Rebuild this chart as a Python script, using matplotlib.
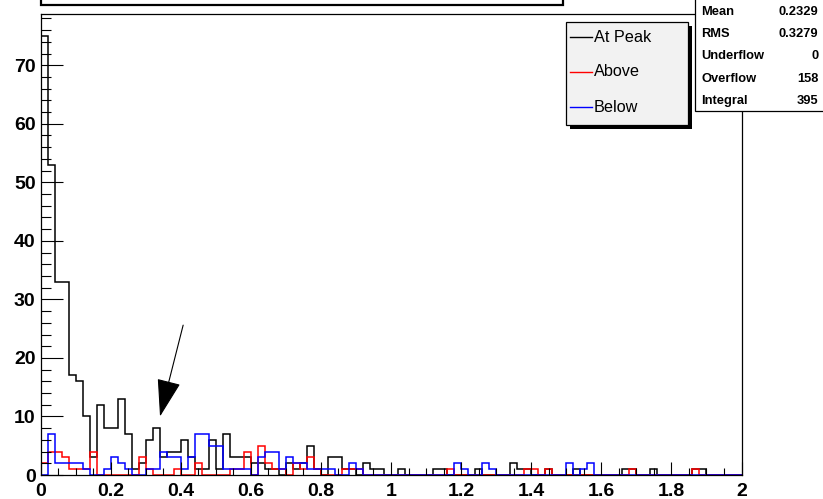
import numpy as np
import matplotlib.pyplot as plt
from matplotlib.patches import Rectangle
from matplotlib.lines import Line2D
from matplotlib.ticker import MultipleLocator

plt.rcParams['font.family'] = ['Liberation Sans', 'DejaVu Sans']

W, H = 823, 499

# 100 bins of width 0.02 between 0 and 2
edges = np.linspace(0, 2, 101)

at_peak = [75, 53, 33, 33, 17, 16, 10, 3, 12, 8,
           8, 13, 7, 1, 2, 6, 8, 3, 4, 4,
           6, 3, 1, 1, 6, 1, 7, 3, 3, 3,
           2, 2, 1, 1, 0, 2, 1, 2, 5, 1,
           0, 3, 3, 1, 1, 0, 2, 1, 1, 0,
           0, 1, 0, 0, 0, 0, 1, 1, 0, 0,
           0, 0, 1, 0, 0, 0, 0, 2, 1, 1,
           0, 0, 1, 0, 0, 0, 1, 0, 0, 0,
           0, 0, 0, 1, 1, 0, 0, 1, 0, 0,
           0, 0, 0, 1, 1, 0, 0, 0, 0, 0]

above = [2, 4, 4, 3, 1, 1, 1, 4, 0, 0,
         0, 0, 0, 0, 3, 1, 0, 0, 0, 1,
         0, 0, 2, 0, 0, 0, 0, 1, 1, 4,
         0, 5, 2, 1, 1, 0, 2, 1, 3, 1,
         0, 0, 0, 1, 1, 1, 0, 0, 0, 0,
         0, 0, 0, 0, 0, 0, 0, 0, 1, 0,
         0, 0, 0, 0, 0, 0, 0, 0, 0, 1,
         1, 0, 1, 0, 0, 0, 0, 0, 0, 0,
         0, 0, 0, 0, 1, 0, 0, 0, 0, 0,
         0, 0, 0, 1, 0, 0, 0, 0, 0, 0]

below = [0, 7, 2, 2, 2, 2, 1, 0, 0, 1,
         3, 2, 1, 0, 0, 1, 1, 4, 3, 3,
         1, 3, 7, 7, 5, 5, 1, 1, 1, 1,
         0, 3, 4, 4, 1, 3, 2, 2, 1, 1,
         1, 1, 0, 0, 2, 1, 0, 0, 0, 0,
         0, 0, 0, 0, 0, 0, 0, 0, 0, 2,
         1, 0, 0, 2, 1, 0, 0, 0, 0, 0,
         0, 0, 0, 0, 0, 2, 0, 1, 2, 0,
         0, 0, 0, 0, 0, 0, 0, 0, 0, 0,
         0, 0, 0, 0, 0, 0, 0, 0, 0, 0]

legend_labels = ['At Peak', 'Above', 'Below']
legend_colors = ['black', 'red', 'blue']

stat_names = ['Mean', 'RMS', 'Underflow', 'Overflow', 'Integral']
stat_values = ['0.2329', '0.3279', '0', '158', '395']

x_ticks = [0, 0.2, 0.4, 0.6, 0.8, 1.0, 1.2, 1.4, 1.6, 1.8, 2.0]
x_tick_labels = ['0', '0.2', '0.4', '0.6', '0.8', '1', '1.2', '1.4', '1.6', '1.8', '2']
y_ticks = [0, 10, 20, 30, 40, 50, 60, 70]


def fx(x):
    return x / W


def fy(y):
    # pixel rows are counted from the top
    return 1 - y / H


fig = plt.figure(figsize=(W / 100, H / 100), dpi=100)
ax = fig.add_axes([fx(40.5), fy(475), 701 / W, 461 / H])

for vals, col in zip([at_peak, above, below], legend_colors):
    ax.stairs(vals, edges, color=col, lw=1.1)

ax.set_xlim(0, 2)
ax.set_ylim(0, 1.05 * max(at_peak))

ax.set_xticks(x_ticks)
ax.set_xticklabels(x_tick_labels)
ax.set_yticks(y_ticks)
ax.set_yticklabels([str(v) for v in y_ticks])
ax.xaxis.set_minor_locator(MultipleLocator(0.05))
ax.yaxis.set_minor_locator(MultipleLocator(2))

ax.tick_params(axis='both', which='both', direction='in', width=0.8,
               labelsize=14, top=False, right=False)
ax.tick_params(axis='x', which='major', length=9.5, pad=5.5)
ax.tick_params(axis='x', which='minor', length=4.7)
ax.tick_params(axis='y', which='major', length=15.5, pad=3.5)
ax.tick_params(axis='y', which='minor', length=7.2)
for lab in ax.get_xticklabels() + ax.get_yticklabels():
    lab.set_fontweight('bold')
for sp in ax.spines.values():
    sp.set_linewidth(0.9)

# arrow pointing at the bump near 0.34
ax.annotate('', xy=(0.341, 10.0), xytext=(0.407, 25.6),
            arrowprops=dict(arrowstyle='-|>,head_length=2.4,head_width=0.76',
                            mutation_scale=10, color='black', lw=0.8,
                            shrinkA=0, shrinkB=0))

# title pave (only its lower edge is inside the canvas)
fig.patches.append(Rectangle((fx(40.5), fy(5)), fx(562.7) - fx(40.5), fy(-20) - fy(5),
                             transform=fig.transFigure, facecolor='white',
                             edgecolor='black', lw=1.6, zorder=2))

# legend with drop shadow
lx0, ly0, lx1, ly1 = 566, 22, 688, 125
fig.patches.append(Rectangle((fx(lx0 + 4), fy(ly1 + 4)), fx(lx1) - fx(lx0), fy(ly0) - fy(ly1),
                             transform=fig.transFigure, facecolor='black',
                             edgecolor='black', lw=0, zorder=2))
fig.patches.append(Rectangle((fx(lx0), fy(ly1)), fx(lx1) - fx(lx0), fy(ly0) - fy(ly1),
                             transform=fig.transFigure, facecolor='#f2f2f2',
                             edgecolor='black', lw=0.9, zorder=3))
for k, (lab, col) in enumerate(zip(legend_labels, legend_colors)):
    yy = fy(37 + 35 * k)
    fig.lines.append(Line2D([fx(570), fx(592)], [yy, yy], transform=fig.transFigure,
                            color=col, lw=1.0, zorder=4))
    fig.text(fx(593.5), yy, lab, fontsize=11.7, va='center', ha='left', zorder=4)

# statistics box
fig.patches.append(Rectangle((fx(695), fy(111)), fx(840) - fx(695), fy(-20) - fy(111),
                             transform=fig.transFigure, facecolor='white',
                             edgecolor='black', lw=0.9, zorder=3))
for k, (name, val) in enumerate(zip(stat_names, stat_values)):
    yy = fy(12 + 22.2 * k)
    fig.text(fx(701.5), yy, name, fontsize=9.3, fontweight='bold',
             va='center', ha='left', zorder=4)
    fig.text(fx(818.5), yy, val, fontsize=9.3, fontweight='bold',
             va='center', ha='right', zorder=4)

fig.savefig('out.png', dpi=100)
